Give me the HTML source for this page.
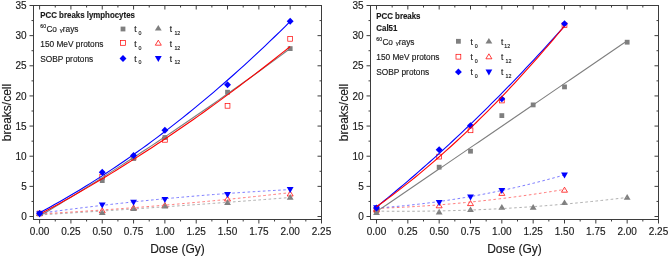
<!DOCTYPE html>
<html><head><meta charset="utf-8"><style>
html,body{margin:0;padding:0;background:#fff;width:669px;height:257px;overflow:hidden}
svg{display:block;will-change:transform}
.c{font-family:"Liberation Sans",sans-serif;fill:#1a1a1a}
.c text{stroke:#1a1a1a;stroke-width:0.15px}
</style></head><body>
<svg width="669" height="257" viewBox="0 0 669 257" class="c">
<rect x="33.5" y="5.5" width="288.0" height="214.0" fill="none" stroke="#3d3d3d" stroke-width="1"/>
<line x1="39.60" y1="219.5" x2="39.60" y2="223.5" stroke="#3d3d3d"/>
<line x1="39.60" y1="5.5" x2="39.60" y2="9.5" stroke="#3d3d3d"/>
<text x="39.60" y="235.0" font-size="10" text-anchor="middle">0.00</text>
<line x1="55.26" y1="219.5" x2="55.26" y2="221.5" stroke="#3d3d3d"/>
<line x1="55.26" y1="5.5" x2="55.26" y2="7.5" stroke="#3d3d3d"/>
<line x1="70.92" y1="219.5" x2="70.92" y2="223.5" stroke="#3d3d3d"/>
<line x1="70.92" y1="5.5" x2="70.92" y2="9.5" stroke="#3d3d3d"/>
<text x="70.92" y="235.0" font-size="10" text-anchor="middle">0.25</text>
<line x1="86.58" y1="219.5" x2="86.58" y2="221.5" stroke="#3d3d3d"/>
<line x1="86.58" y1="5.5" x2="86.58" y2="7.5" stroke="#3d3d3d"/>
<line x1="102.24" y1="219.5" x2="102.24" y2="223.5" stroke="#3d3d3d"/>
<line x1="102.24" y1="5.5" x2="102.24" y2="9.5" stroke="#3d3d3d"/>
<text x="102.24" y="235.0" font-size="10" text-anchor="middle">0.50</text>
<line x1="117.91" y1="219.5" x2="117.91" y2="221.5" stroke="#3d3d3d"/>
<line x1="117.91" y1="5.5" x2="117.91" y2="7.5" stroke="#3d3d3d"/>
<line x1="133.57" y1="219.5" x2="133.57" y2="223.5" stroke="#3d3d3d"/>
<line x1="133.57" y1="5.5" x2="133.57" y2="9.5" stroke="#3d3d3d"/>
<text x="133.57" y="235.0" font-size="10" text-anchor="middle">0.75</text>
<line x1="149.23" y1="219.5" x2="149.23" y2="221.5" stroke="#3d3d3d"/>
<line x1="149.23" y1="5.5" x2="149.23" y2="7.5" stroke="#3d3d3d"/>
<line x1="164.89" y1="219.5" x2="164.89" y2="223.5" stroke="#3d3d3d"/>
<line x1="164.89" y1="5.5" x2="164.89" y2="9.5" stroke="#3d3d3d"/>
<text x="164.89" y="235.0" font-size="10" text-anchor="middle">1.00</text>
<line x1="180.55" y1="219.5" x2="180.55" y2="221.5" stroke="#3d3d3d"/>
<line x1="180.55" y1="5.5" x2="180.55" y2="7.5" stroke="#3d3d3d"/>
<line x1="196.21" y1="219.5" x2="196.21" y2="223.5" stroke="#3d3d3d"/>
<line x1="196.21" y1="5.5" x2="196.21" y2="9.5" stroke="#3d3d3d"/>
<text x="196.21" y="235.0" font-size="10" text-anchor="middle">1.25</text>
<line x1="211.87" y1="219.5" x2="211.87" y2="221.5" stroke="#3d3d3d"/>
<line x1="211.87" y1="5.5" x2="211.87" y2="7.5" stroke="#3d3d3d"/>
<line x1="227.53" y1="219.5" x2="227.53" y2="223.5" stroke="#3d3d3d"/>
<line x1="227.53" y1="5.5" x2="227.53" y2="9.5" stroke="#3d3d3d"/>
<text x="227.53" y="235.0" font-size="10" text-anchor="middle">1.50</text>
<line x1="243.19" y1="219.5" x2="243.19" y2="221.5" stroke="#3d3d3d"/>
<line x1="243.19" y1="5.5" x2="243.19" y2="7.5" stroke="#3d3d3d"/>
<line x1="258.86" y1="219.5" x2="258.86" y2="223.5" stroke="#3d3d3d"/>
<line x1="258.86" y1="5.5" x2="258.86" y2="9.5" stroke="#3d3d3d"/>
<text x="258.86" y="235.0" font-size="10" text-anchor="middle">1.75</text>
<line x1="274.52" y1="219.5" x2="274.52" y2="221.5" stroke="#3d3d3d"/>
<line x1="274.52" y1="5.5" x2="274.52" y2="7.5" stroke="#3d3d3d"/>
<line x1="290.18" y1="219.5" x2="290.18" y2="223.5" stroke="#3d3d3d"/>
<line x1="290.18" y1="5.5" x2="290.18" y2="9.5" stroke="#3d3d3d"/>
<text x="290.18" y="235.0" font-size="10" text-anchor="middle">2.00</text>
<line x1="305.84" y1="219.5" x2="305.84" y2="221.5" stroke="#3d3d3d"/>
<line x1="305.84" y1="5.5" x2="305.84" y2="7.5" stroke="#3d3d3d"/>
<line x1="321.50" y1="219.5" x2="321.50" y2="223.5" stroke="#3d3d3d"/>
<line x1="321.50" y1="5.5" x2="321.50" y2="9.5" stroke="#3d3d3d"/>
<text x="321.50" y="235.0" font-size="10" text-anchor="middle">2.25</text>
<line x1="33.5" y1="216.50" x2="29.5" y2="216.50" stroke="#3d3d3d"/>
<line x1="321.5" y1="216.50" x2="317.5" y2="216.50" stroke="#3d3d3d"/>
<text x="26.70" y="220.10" font-size="10" text-anchor="end">0</text>
<line x1="33.5" y1="201.43" x2="31.5" y2="201.43" stroke="#3d3d3d"/>
<line x1="321.5" y1="201.43" x2="319.5" y2="201.43" stroke="#3d3d3d"/>
<line x1="33.5" y1="186.36" x2="29.5" y2="186.36" stroke="#3d3d3d"/>
<line x1="321.5" y1="186.36" x2="317.5" y2="186.36" stroke="#3d3d3d"/>
<text x="26.70" y="189.96" font-size="10" text-anchor="end">5</text>
<line x1="33.5" y1="171.29" x2="31.5" y2="171.29" stroke="#3d3d3d"/>
<line x1="321.5" y1="171.29" x2="319.5" y2="171.29" stroke="#3d3d3d"/>
<line x1="33.5" y1="156.21" x2="29.5" y2="156.21" stroke="#3d3d3d"/>
<line x1="321.5" y1="156.21" x2="317.5" y2="156.21" stroke="#3d3d3d"/>
<text x="26.70" y="159.81" font-size="10" text-anchor="end">10</text>
<line x1="33.5" y1="141.14" x2="31.5" y2="141.14" stroke="#3d3d3d"/>
<line x1="321.5" y1="141.14" x2="319.5" y2="141.14" stroke="#3d3d3d"/>
<line x1="33.5" y1="126.07" x2="29.5" y2="126.07" stroke="#3d3d3d"/>
<line x1="321.5" y1="126.07" x2="317.5" y2="126.07" stroke="#3d3d3d"/>
<text x="26.70" y="129.67" font-size="10" text-anchor="end">15</text>
<line x1="33.5" y1="111.00" x2="31.5" y2="111.00" stroke="#3d3d3d"/>
<line x1="321.5" y1="111.00" x2="319.5" y2="111.00" stroke="#3d3d3d"/>
<line x1="33.5" y1="95.93" x2="29.5" y2="95.93" stroke="#3d3d3d"/>
<line x1="321.5" y1="95.93" x2="317.5" y2="95.93" stroke="#3d3d3d"/>
<text x="26.70" y="99.53" font-size="10" text-anchor="end">20</text>
<line x1="33.5" y1="80.86" x2="31.5" y2="80.86" stroke="#3d3d3d"/>
<line x1="321.5" y1="80.86" x2="319.5" y2="80.86" stroke="#3d3d3d"/>
<line x1="33.5" y1="65.79" x2="29.5" y2="65.79" stroke="#3d3d3d"/>
<line x1="321.5" y1="65.79" x2="317.5" y2="65.79" stroke="#3d3d3d"/>
<text x="26.70" y="69.39" font-size="10" text-anchor="end">25</text>
<line x1="33.5" y1="50.71" x2="31.5" y2="50.71" stroke="#3d3d3d"/>
<line x1="321.5" y1="50.71" x2="319.5" y2="50.71" stroke="#3d3d3d"/>
<line x1="33.5" y1="35.64" x2="29.5" y2="35.64" stroke="#3d3d3d"/>
<line x1="321.5" y1="35.64" x2="317.5" y2="35.64" stroke="#3d3d3d"/>
<text x="26.70" y="39.24" font-size="10" text-anchor="end">30</text>
<line x1="33.5" y1="20.57" x2="31.5" y2="20.57" stroke="#3d3d3d"/>
<line x1="321.5" y1="20.57" x2="319.5" y2="20.57" stroke="#3d3d3d"/>
<line x1="33.5" y1="5.50" x2="29.5" y2="5.50" stroke="#3d3d3d"/>
<line x1="321.5" y1="5.50" x2="317.5" y2="5.50" stroke="#3d3d3d"/>
<text x="26.70" y="9.10" font-size="10" text-anchor="end">35</text>
<text x="177.50" y="252.6" font-size="12" text-anchor="middle">Dose (Gy)</text>
<text transform="translate(11.00,112.50) rotate(-90)" font-size="12" text-anchor="middle">breaks/cell</text>
<rect x="37.20" y="211.10" width="4.80" height="4.80" fill="none" stroke="#ff0000" stroke-width="0.7"/>
<rect x="99.84" y="174.60" width="4.80" height="4.80" fill="none" stroke="#ff0000" stroke-width="0.7"/>
<rect x="131.17" y="155.10" width="4.80" height="4.80" fill="none" stroke="#ff0000" stroke-width="0.7"/>
<rect x="162.49" y="137.40" width="4.80" height="4.80" fill="none" stroke="#ff0000" stroke-width="0.7"/>
<rect x="225.13" y="103.40" width="4.80" height="4.80" fill="none" stroke="#ff0000" stroke-width="0.7"/>
<rect x="287.78" y="36.40" width="4.80" height="4.80" fill="none" stroke="#ff0000" stroke-width="0.7"/>
<rect x="37.20" y="211.10" width="4.80" height="4.80" fill="#7f7f7f"/>
<rect x="99.84" y="178.20" width="4.80" height="4.80" fill="#7f7f7f"/>
<rect x="131.17" y="156.10" width="4.80" height="4.80" fill="#7f7f7f"/>
<rect x="162.49" y="135.10" width="4.80" height="4.80" fill="#7f7f7f"/>
<rect x="225.13" y="89.80" width="4.80" height="4.80" fill="#7f7f7f"/>
<rect x="287.78" y="46.20" width="4.80" height="4.80" fill="#7f7f7f"/>
<polygon points="39.60,210.50 42.60,215.50 36.60,215.50" fill="none" stroke="#ff0000" stroke-width="0.75"/>
<polygon points="102.24,207.80 105.24,212.80 99.24,212.80" fill="none" stroke="#ff0000" stroke-width="0.75"/>
<polygon points="133.57,205.00 136.57,210.00 130.57,210.00" fill="none" stroke="#ff0000" stroke-width="0.75"/>
<polygon points="164.89,202.50 167.89,207.50 161.89,207.50" fill="none" stroke="#ff0000" stroke-width="0.75"/>
<polygon points="227.53,196.00 230.53,201.00 224.53,201.00" fill="none" stroke="#ff0000" stroke-width="0.75"/>
<polygon points="290.18,191.00 293.18,196.00 287.18,196.00" fill="none" stroke="#ff0000" stroke-width="0.75"/>
<polygon points="39.60,210.40 43.00,216.10 36.20,216.10" fill="#7f7f7f"/>
<polygon points="102.24,209.20 105.64,214.90 98.84,214.90" fill="#7f7f7f"/>
<polygon points="133.57,205.40 136.97,211.10 130.17,211.10" fill="#7f7f7f"/>
<polygon points="164.89,202.90 168.29,208.60 161.49,208.60" fill="#7f7f7f"/>
<polygon points="227.53,199.20 230.93,204.90 224.13,204.90" fill="#7f7f7f"/>
<polygon points="290.18,194.00 293.58,199.70 286.78,199.70" fill="#7f7f7f"/>
<polyline points="39.60,214.89 44.71,214.58 49.83,214.28 54.94,213.97 60.06,213.66 65.17,213.34 70.28,213.03 75.40,212.71 80.51,212.39 85.62,212.07 90.74,211.74 95.85,211.42 100.97,211.09 106.08,210.76 111.19,210.43 116.31,210.09 121.42,209.76 126.54,209.42 131.65,209.08 136.76,208.74 141.88,208.39 146.99,208.05 152.10,207.70 157.22,207.35 162.33,206.99 167.45,206.64 172.56,206.28 177.67,205.92 182.79,205.56 187.90,205.20 193.01,204.83 198.13,204.47 203.24,204.10 208.36,203.73 213.47,203.35 218.58,202.98 223.70,202.60 228.81,202.22 233.93,201.84 239.04,201.45 244.15,201.07 249.27,200.68 254.38,200.29 259.49,199.90 264.61,199.51 269.72,199.11 274.84,198.71 279.95,198.31 285.06,197.91 290.18,197.50" fill="none" stroke="#9a9a9a" stroke-width="0.8" stroke-dasharray="2.6 2.5"/>
<polyline points="39.60,213.91 44.71,213.63 49.83,213.34 54.94,213.04 60.06,212.74 65.17,212.43 70.28,212.11 75.40,211.79 80.51,211.46 85.62,211.13 90.74,210.79 95.85,210.44 100.97,210.09 106.08,209.73 111.19,209.37 116.31,208.99 121.42,208.62 126.54,208.23 131.65,207.84 136.76,207.45 141.88,207.04 146.99,206.63 152.10,206.22 157.22,205.80 162.33,205.37 167.45,204.93 172.56,204.49 177.67,204.05 182.79,203.59 187.90,203.14 193.01,202.67 198.13,202.20 203.24,201.72 208.36,201.24 213.47,200.74 218.58,200.25 223.70,199.74 228.81,199.24 233.93,198.72 239.04,198.20 244.15,197.67 249.27,197.14 254.38,196.59 259.49,196.05 264.61,195.49 269.72,194.93 274.84,194.37 279.95,193.80 285.06,193.22 290.18,192.63" fill="none" stroke="#ff5a5a" stroke-width="0.8" stroke-dasharray="2.6 2.5"/>
<polyline points="39.60,213.35 44.71,212.65 49.83,211.96 54.94,211.27 60.06,210.60 65.17,209.93 70.28,209.27 75.40,208.62 80.51,207.98 85.62,207.35 90.74,206.73 95.85,206.12 100.97,205.52 106.08,204.92 111.19,204.34 116.31,203.76 121.42,203.20 126.54,202.64 131.65,202.09 136.76,201.55 141.88,201.02 146.99,200.50 152.10,199.99 157.22,199.48 162.33,198.99 167.45,198.51 172.56,198.03 177.67,197.56 182.79,197.11 187.90,196.66 193.01,196.22 198.13,195.79 203.24,195.37 208.36,194.95 213.47,194.55 218.58,194.16 223.70,193.77 228.81,193.40 233.93,193.03 239.04,192.67 244.15,192.32 249.27,191.98 254.38,191.65 259.49,191.33 264.61,191.02 269.72,190.72 274.84,190.42 279.95,190.14 285.06,189.86 290.18,189.59" fill="none" stroke="#5a5aff" stroke-width="0.8" stroke-dasharray="2.6 2.5"/>
<polyline points="39.60,216.04 44.71,212.99 49.83,209.92 54.94,206.84 60.06,203.74 65.17,200.62 70.28,197.49 75.40,194.35 80.51,191.19 85.62,188.01 90.74,184.82 95.85,181.62 100.97,178.39 106.08,175.16 111.19,171.91 116.31,168.64 121.42,165.36 126.54,162.06 131.65,158.75 136.76,155.42 141.88,152.08 146.99,148.72 152.10,145.35 157.22,141.96 162.33,138.56 167.45,135.14 172.56,131.70 177.67,128.25 182.79,124.79 187.90,121.31 193.01,117.82 198.13,114.31 203.24,110.78 208.36,107.24 213.47,103.69 218.58,100.12 223.70,96.53 228.81,92.93 233.93,89.31 239.04,85.68 244.15,82.03 249.27,78.37 254.38,74.70 259.49,71.00 264.61,67.30 269.72,63.57 274.84,59.83 279.95,56.08 285.06,52.31 290.18,48.53" fill="none" stroke="#7f7f7f" stroke-width="1.1"/>
<polyline points="39.60,214.30 44.71,211.56 49.83,208.79 54.94,205.99 60.06,203.17 65.17,200.32 70.28,197.43 75.40,194.52 80.51,191.58 85.62,188.62 90.74,185.62 95.85,182.59 100.97,179.54 106.08,176.46 111.19,173.35 116.31,170.21 121.42,167.04 126.54,163.84 131.65,160.62 136.76,157.37 141.88,154.08 146.99,150.77 152.10,147.43 157.22,144.06 162.33,140.67 167.45,137.24 172.56,133.79 177.67,130.31 182.79,126.79 187.90,123.25 193.01,119.69 198.13,116.09 203.24,112.46 208.36,108.81 213.47,105.13 218.58,101.42 223.70,97.68 228.81,93.91 233.93,90.11 239.04,86.29 244.15,82.43 249.27,78.55 254.38,74.64 259.49,70.70 264.61,66.73 269.72,62.73 274.84,58.71 279.95,54.65 285.06,50.57 290.18,46.46" fill="none" stroke="#ff0000" stroke-width="1.1"/>
<polyline points="39.60,212.73 44.71,209.99 49.83,207.19 54.94,204.35 60.06,201.46 65.17,198.52 70.28,195.53 75.40,192.50 80.51,189.41 85.62,186.28 90.74,183.10 95.85,179.87 100.97,176.60 106.08,173.27 111.19,169.90 116.31,166.48 121.42,163.01 126.54,159.49 131.65,155.92 136.76,152.31 141.88,148.65 146.99,144.94 152.10,141.18 157.22,137.37 162.33,133.52 167.45,129.62 172.56,125.66 177.67,121.66 182.79,117.62 187.90,113.52 193.01,109.38 198.13,105.18 203.24,100.94 208.36,96.66 213.47,92.32 218.58,87.93 223.70,83.50 228.81,79.02 233.93,74.49 239.04,69.91 244.15,65.29 249.27,60.61 254.38,55.89 259.49,51.12 264.61,46.30 269.72,41.43 274.84,36.52 279.95,31.55 285.06,26.54 290.18,21.48" fill="none" stroke="#0000ff" stroke-width="1.1"/>
<polygon points="39.60,217.60 43.00,211.60 36.20,211.60" fill="#0000ff"/>
<polygon points="102.24,208.50 105.64,202.50 98.84,202.50" fill="#0000ff"/>
<polygon points="133.57,205.80 136.97,199.80 130.17,199.80" fill="#0000ff"/>
<polygon points="164.89,203.10 168.29,197.10 161.49,197.10" fill="#0000ff"/>
<polygon points="227.53,198.10 230.93,192.10 224.13,192.10" fill="#0000ff"/>
<polygon points="290.18,193.00 293.58,187.00 286.78,187.00" fill="#0000ff"/>
<polygon points="39.60,210.05 43.05,213.50 39.60,216.95 36.15,213.50" fill="#0000ff"/>
<polygon points="102.24,168.75 105.69,172.20 102.24,175.65 98.79,172.20" fill="#0000ff"/>
<polygon points="133.57,152.05 137.02,155.50 133.57,158.95 130.12,155.50" fill="#0000ff"/>
<polygon points="164.89,126.75 168.34,130.20 164.89,133.65 161.44,130.20" fill="#0000ff"/>
<polygon points="227.53,81.25 230.98,84.70 227.53,88.15 224.08,84.70" fill="#0000ff"/>
<polygon points="290.18,17.75 293.63,21.20 290.18,24.65 286.73,21.20" fill="#0000ff"/>
<rect x="370.5" y="5.5" width="288.0" height="214.0" fill="none" stroke="#3d3d3d" stroke-width="1"/>
<line x1="376.50" y1="219.5" x2="376.50" y2="223.5" stroke="#3d3d3d"/>
<line x1="376.50" y1="5.5" x2="376.50" y2="9.5" stroke="#3d3d3d"/>
<text x="376.50" y="235.0" font-size="10" text-anchor="middle">0.00</text>
<line x1="392.17" y1="219.5" x2="392.17" y2="221.5" stroke="#3d3d3d"/>
<line x1="392.17" y1="5.5" x2="392.17" y2="7.5" stroke="#3d3d3d"/>
<line x1="407.83" y1="219.5" x2="407.83" y2="223.5" stroke="#3d3d3d"/>
<line x1="407.83" y1="5.5" x2="407.83" y2="9.5" stroke="#3d3d3d"/>
<text x="407.83" y="235.0" font-size="10" text-anchor="middle">0.25</text>
<line x1="423.50" y1="219.5" x2="423.50" y2="221.5" stroke="#3d3d3d"/>
<line x1="423.50" y1="5.5" x2="423.50" y2="7.5" stroke="#3d3d3d"/>
<line x1="439.17" y1="219.5" x2="439.17" y2="223.5" stroke="#3d3d3d"/>
<line x1="439.17" y1="5.5" x2="439.17" y2="9.5" stroke="#3d3d3d"/>
<text x="439.17" y="235.0" font-size="10" text-anchor="middle">0.50</text>
<line x1="454.83" y1="219.5" x2="454.83" y2="221.5" stroke="#3d3d3d"/>
<line x1="454.83" y1="5.5" x2="454.83" y2="7.5" stroke="#3d3d3d"/>
<line x1="470.50" y1="219.5" x2="470.50" y2="223.5" stroke="#3d3d3d"/>
<line x1="470.50" y1="5.5" x2="470.50" y2="9.5" stroke="#3d3d3d"/>
<text x="470.50" y="235.0" font-size="10" text-anchor="middle">0.75</text>
<line x1="486.17" y1="219.5" x2="486.17" y2="221.5" stroke="#3d3d3d"/>
<line x1="486.17" y1="5.5" x2="486.17" y2="7.5" stroke="#3d3d3d"/>
<line x1="501.83" y1="219.5" x2="501.83" y2="223.5" stroke="#3d3d3d"/>
<line x1="501.83" y1="5.5" x2="501.83" y2="9.5" stroke="#3d3d3d"/>
<text x="501.83" y="235.0" font-size="10" text-anchor="middle">1.00</text>
<line x1="517.50" y1="219.5" x2="517.50" y2="221.5" stroke="#3d3d3d"/>
<line x1="517.50" y1="5.5" x2="517.50" y2="7.5" stroke="#3d3d3d"/>
<line x1="533.17" y1="219.5" x2="533.17" y2="223.5" stroke="#3d3d3d"/>
<line x1="533.17" y1="5.5" x2="533.17" y2="9.5" stroke="#3d3d3d"/>
<text x="533.17" y="235.0" font-size="10" text-anchor="middle">1.25</text>
<line x1="548.83" y1="219.5" x2="548.83" y2="221.5" stroke="#3d3d3d"/>
<line x1="548.83" y1="5.5" x2="548.83" y2="7.5" stroke="#3d3d3d"/>
<line x1="564.50" y1="219.5" x2="564.50" y2="223.5" stroke="#3d3d3d"/>
<line x1="564.50" y1="5.5" x2="564.50" y2="9.5" stroke="#3d3d3d"/>
<text x="564.50" y="235.0" font-size="10" text-anchor="middle">1.50</text>
<line x1="580.17" y1="219.5" x2="580.17" y2="221.5" stroke="#3d3d3d"/>
<line x1="580.17" y1="5.5" x2="580.17" y2="7.5" stroke="#3d3d3d"/>
<line x1="595.83" y1="219.5" x2="595.83" y2="223.5" stroke="#3d3d3d"/>
<line x1="595.83" y1="5.5" x2="595.83" y2="9.5" stroke="#3d3d3d"/>
<text x="595.83" y="235.0" font-size="10" text-anchor="middle">1.75</text>
<line x1="611.50" y1="219.5" x2="611.50" y2="221.5" stroke="#3d3d3d"/>
<line x1="611.50" y1="5.5" x2="611.50" y2="7.5" stroke="#3d3d3d"/>
<line x1="627.17" y1="219.5" x2="627.17" y2="223.5" stroke="#3d3d3d"/>
<line x1="627.17" y1="5.5" x2="627.17" y2="9.5" stroke="#3d3d3d"/>
<text x="627.17" y="235.0" font-size="10" text-anchor="middle">2.00</text>
<line x1="642.83" y1="219.5" x2="642.83" y2="221.5" stroke="#3d3d3d"/>
<line x1="642.83" y1="5.5" x2="642.83" y2="7.5" stroke="#3d3d3d"/>
<line x1="658.50" y1="219.5" x2="658.50" y2="223.5" stroke="#3d3d3d"/>
<line x1="658.50" y1="5.5" x2="658.50" y2="9.5" stroke="#3d3d3d"/>
<text x="658.50" y="235.0" font-size="10" text-anchor="middle">2.25</text>
<line x1="370.5" y1="216.50" x2="366.5" y2="216.50" stroke="#3d3d3d"/>
<line x1="658.5" y1="216.50" x2="654.5" y2="216.50" stroke="#3d3d3d"/>
<text x="363.70" y="220.10" font-size="10" text-anchor="end">0</text>
<line x1="370.5" y1="201.43" x2="368.5" y2="201.43" stroke="#3d3d3d"/>
<line x1="658.5" y1="201.43" x2="656.5" y2="201.43" stroke="#3d3d3d"/>
<line x1="370.5" y1="186.36" x2="366.5" y2="186.36" stroke="#3d3d3d"/>
<line x1="658.5" y1="186.36" x2="654.5" y2="186.36" stroke="#3d3d3d"/>
<text x="363.70" y="189.96" font-size="10" text-anchor="end">5</text>
<line x1="370.5" y1="171.29" x2="368.5" y2="171.29" stroke="#3d3d3d"/>
<line x1="658.5" y1="171.29" x2="656.5" y2="171.29" stroke="#3d3d3d"/>
<line x1="370.5" y1="156.21" x2="366.5" y2="156.21" stroke="#3d3d3d"/>
<line x1="658.5" y1="156.21" x2="654.5" y2="156.21" stroke="#3d3d3d"/>
<text x="363.70" y="159.81" font-size="10" text-anchor="end">10</text>
<line x1="370.5" y1="141.14" x2="368.5" y2="141.14" stroke="#3d3d3d"/>
<line x1="658.5" y1="141.14" x2="656.5" y2="141.14" stroke="#3d3d3d"/>
<line x1="370.5" y1="126.07" x2="366.5" y2="126.07" stroke="#3d3d3d"/>
<line x1="658.5" y1="126.07" x2="654.5" y2="126.07" stroke="#3d3d3d"/>
<text x="363.70" y="129.67" font-size="10" text-anchor="end">15</text>
<line x1="370.5" y1="111.00" x2="368.5" y2="111.00" stroke="#3d3d3d"/>
<line x1="658.5" y1="111.00" x2="656.5" y2="111.00" stroke="#3d3d3d"/>
<line x1="370.5" y1="95.93" x2="366.5" y2="95.93" stroke="#3d3d3d"/>
<line x1="658.5" y1="95.93" x2="654.5" y2="95.93" stroke="#3d3d3d"/>
<text x="363.70" y="99.53" font-size="10" text-anchor="end">20</text>
<line x1="370.5" y1="80.86" x2="368.5" y2="80.86" stroke="#3d3d3d"/>
<line x1="658.5" y1="80.86" x2="656.5" y2="80.86" stroke="#3d3d3d"/>
<line x1="370.5" y1="65.79" x2="366.5" y2="65.79" stroke="#3d3d3d"/>
<line x1="658.5" y1="65.79" x2="654.5" y2="65.79" stroke="#3d3d3d"/>
<text x="363.70" y="69.39" font-size="10" text-anchor="end">25</text>
<line x1="370.5" y1="50.71" x2="368.5" y2="50.71" stroke="#3d3d3d"/>
<line x1="658.5" y1="50.71" x2="656.5" y2="50.71" stroke="#3d3d3d"/>
<line x1="370.5" y1="35.64" x2="366.5" y2="35.64" stroke="#3d3d3d"/>
<line x1="658.5" y1="35.64" x2="654.5" y2="35.64" stroke="#3d3d3d"/>
<text x="363.70" y="39.24" font-size="10" text-anchor="end">30</text>
<line x1="370.5" y1="20.57" x2="368.5" y2="20.57" stroke="#3d3d3d"/>
<line x1="658.5" y1="20.57" x2="656.5" y2="20.57" stroke="#3d3d3d"/>
<line x1="370.5" y1="5.50" x2="366.5" y2="5.50" stroke="#3d3d3d"/>
<line x1="658.5" y1="5.50" x2="654.5" y2="5.50" stroke="#3d3d3d"/>
<text x="363.70" y="9.10" font-size="10" text-anchor="end">35</text>
<text x="514.50" y="252.6" font-size="12" text-anchor="middle">Dose (Gy)</text>
<text transform="translate(348.00,112.50) rotate(-90)" font-size="12" text-anchor="middle">breaks/cell</text>
<rect x="374.10" y="207.60" width="4.80" height="4.80" fill="none" stroke="#ff0000" stroke-width="0.7"/>
<rect x="436.77" y="154.20" width="4.80" height="4.80" fill="none" stroke="#ff0000" stroke-width="0.7"/>
<rect x="468.10" y="127.90" width="4.80" height="4.80" fill="none" stroke="#ff0000" stroke-width="0.7"/>
<rect x="499.43" y="98.10" width="4.80" height="4.80" fill="none" stroke="#ff0000" stroke-width="0.7"/>
<rect x="562.10" y="22.80" width="4.80" height="4.80" fill="none" stroke="#ff0000" stroke-width="0.7"/>
<rect x="374.10" y="207.60" width="4.80" height="4.80" fill="#7f7f7f"/>
<rect x="436.77" y="164.80" width="4.80" height="4.80" fill="#7f7f7f"/>
<rect x="468.10" y="148.80" width="4.80" height="4.80" fill="#7f7f7f"/>
<rect x="499.43" y="113.20" width="4.80" height="4.80" fill="#7f7f7f"/>
<rect x="530.77" y="102.50" width="4.80" height="4.80" fill="#7f7f7f"/>
<rect x="562.10" y="84.50" width="4.80" height="4.80" fill="#7f7f7f"/>
<rect x="624.77" y="39.80" width="4.80" height="4.80" fill="#7f7f7f"/>
<polygon points="376.50,206.30 379.50,211.30 373.50,211.30" fill="none" stroke="#ff0000" stroke-width="0.75"/>
<polygon points="439.17,202.80 442.17,207.80 436.17,207.80" fill="none" stroke="#ff0000" stroke-width="0.75"/>
<polygon points="470.50,200.60 473.50,205.60 467.50,205.60" fill="none" stroke="#ff0000" stroke-width="0.75"/>
<polygon points="501.83,190.40 504.83,195.40 498.83,195.40" fill="none" stroke="#ff0000" stroke-width="0.75"/>
<polygon points="564.50,187.20 567.50,192.20 561.50,192.20" fill="none" stroke="#ff0000" stroke-width="0.75"/>
<polygon points="376.50,209.30 379.90,215.00 373.10,215.00" fill="#7f7f7f"/>
<polygon points="439.17,208.70 442.57,214.40 435.77,214.40" fill="#7f7f7f"/>
<polygon points="470.50,206.40 473.90,212.10 467.10,212.10" fill="#7f7f7f"/>
<polygon points="501.83,204.10 505.23,209.80 498.43,209.80" fill="#7f7f7f"/>
<polygon points="533.17,204.10 536.57,209.80 529.77,209.80" fill="#7f7f7f"/>
<polygon points="564.50,199.40 567.90,205.10 561.10,205.10" fill="#7f7f7f"/>
<polygon points="627.17,194.00 630.57,199.70 623.77,199.70" fill="#7f7f7f"/>
<polyline points="376.50,211.11 381.62,211.17 386.73,211.22 391.85,211.26 396.96,211.28 402.08,211.29 407.19,211.29 412.31,211.27 417.43,211.23 422.54,211.18 427.66,211.12 432.77,211.04 437.89,210.95 443.00,210.85 448.12,210.73 453.23,210.59 458.35,210.44 463.47,210.28 468.58,210.10 473.70,209.91 478.81,209.70 483.93,209.48 489.04,209.24 494.16,208.99 499.28,208.73 504.39,208.45 509.51,208.16 514.62,207.85 519.74,207.53 524.85,207.19 529.97,206.84 535.09,206.48 540.20,206.10 545.32,205.71 550.43,205.30 555.55,204.88 560.66,204.44 565.78,203.99 570.89,203.52 576.01,203.04 581.13,202.55 586.24,202.04 591.36,201.52 596.47,200.98 601.59,200.43 606.70,199.86 611.82,199.28 616.94,198.69 622.05,198.08 627.17,197.46" fill="none" stroke="#9a9a9a" stroke-width="0.8" stroke-dasharray="2.6 2.5"/>
<polyline points="376.50,208.37 380.34,208.24 384.17,208.09 388.01,207.94 391.85,207.77 395.68,207.60 399.52,207.41 403.36,207.21 407.19,207.00 411.03,206.79 414.87,206.56 418.70,206.32 422.54,206.07 426.38,205.81 430.21,205.54 434.05,205.25 437.89,204.96 441.72,204.66 445.56,204.35 449.40,204.02 453.23,203.69 457.07,203.34 460.91,202.99 464.74,202.62 468.58,202.25 472.42,201.86 476.26,201.46 480.09,201.05 483.93,200.64 487.77,200.21 491.60,199.77 495.44,199.32 499.28,198.86 503.11,198.38 506.95,197.90 510.79,197.41 514.62,196.91 518.46,196.39 522.30,195.87 526.13,195.33 529.97,194.79 533.81,194.23 537.64,193.67 541.48,193.09 545.32,192.50 549.15,191.90 552.99,191.30 556.83,190.68 560.66,190.05 564.50,189.41" fill="none" stroke="#ff5a5a" stroke-width="0.8" stroke-dasharray="2.6 2.5"/>
<polyline points="376.50,208.05 380.34,207.78 384.17,207.49 388.01,207.19 391.85,206.86 395.68,206.53 399.52,206.17 403.36,205.80 407.19,205.41 411.03,205.00 414.87,204.58 418.70,204.14 422.54,203.69 426.38,203.21 430.21,202.72 434.05,202.21 437.89,201.69 441.72,201.15 445.56,200.59 449.40,200.02 453.23,199.43 457.07,198.82 460.91,198.19 464.74,197.55 468.58,196.89 472.42,196.21 476.26,195.52 480.09,194.81 483.93,194.08 487.77,193.34 491.60,192.58 495.44,191.80 499.28,191.01 503.11,190.20 506.95,189.37 510.79,188.52 514.62,187.66 518.46,186.78 522.30,185.88 526.13,184.97 529.97,184.04 533.81,183.10 537.64,182.13 541.48,181.15 545.32,180.15 549.15,179.14 552.99,178.11 556.83,177.06 560.66,176.00 564.50,174.92" fill="none" stroke="#5a5aff" stroke-width="0.8" stroke-dasharray="2.6 2.5"/>
<polyline points="376.50,211.65 381.62,208.17 386.73,204.68 391.85,201.20 396.96,197.71 402.08,194.22 407.19,190.74 412.31,187.25 417.43,183.76 422.54,180.28 427.66,176.79 432.77,173.31 437.89,169.82 443.00,166.33 448.12,162.85 453.23,159.36 458.35,155.87 463.47,152.39 468.58,148.90 473.70,145.42 478.81,141.93 483.93,138.44 489.04,134.96 494.16,131.47 499.28,127.98 504.39,124.50 509.51,121.01 514.62,117.53 519.74,114.04 524.85,110.55 529.97,107.07 535.09,103.58 540.20,100.09 545.32,96.61 550.43,93.12 555.55,89.63 560.66,86.15 565.78,82.66 570.89,79.18 576.01,75.69 581.13,72.20 586.24,68.72 591.36,65.23 596.47,61.74 601.59,58.26 606.70,54.77 611.82,51.29 616.94,47.80 622.05,44.31 627.17,40.83" fill="none" stroke="#7f7f7f" stroke-width="1.1"/>
<polyline points="376.50,206.89 380.34,203.81 384.17,200.71 388.01,197.58 391.85,194.43 395.68,191.25 399.52,188.04 403.36,184.82 407.19,181.56 411.03,178.28 414.87,174.97 418.70,171.64 422.54,168.28 426.38,164.90 430.21,161.49 434.05,158.06 437.89,154.60 441.72,151.11 445.56,147.60 449.40,144.07 453.23,140.50 457.07,136.92 460.91,133.30 464.74,129.67 468.58,126.00 472.42,122.31 476.26,118.60 480.09,114.86 483.93,111.09 487.77,107.30 491.60,103.48 495.44,99.64 499.28,95.77 503.11,91.88 506.95,87.96 510.79,84.02 514.62,80.05 518.46,76.05 522.30,72.03 526.13,67.98 529.97,63.91 533.81,59.81 537.64,55.69 541.48,51.54 545.32,47.37 549.15,43.17 552.99,38.94 556.83,34.69 560.66,30.41 564.50,26.11" fill="none" stroke="#0000ff" stroke-width="1.1"/>
<polygon points="376.50,211.30 379.90,205.30 373.10,205.30" fill="#0000ff"/>
<polygon points="439.17,205.90 442.57,199.90 435.77,199.90" fill="#0000ff"/>
<polygon points="470.50,200.40 473.90,194.40 467.10,194.40" fill="#0000ff"/>
<polygon points="501.83,193.90 505.23,187.90 498.43,187.90" fill="#0000ff"/>
<polygon points="564.50,178.50 567.90,172.50 561.10,172.50" fill="#0000ff"/>
<polygon points="376.50,204.55 379.95,208.00 376.50,211.45 373.05,208.00" fill="#0000ff"/>
<polygon points="439.17,146.35 442.62,149.80 439.17,153.25 435.72,149.80" fill="#0000ff"/>
<polygon points="470.50,122.15 473.95,125.60 470.50,129.05 467.05,125.60" fill="#0000ff"/>
<polygon points="501.83,95.45 505.28,98.90 501.83,102.35 498.38,98.90" fill="#0000ff"/>
<polygon points="564.50,20.35 567.95,23.80 564.50,27.25 561.05,23.80" fill="#0000ff"/>
<polyline points="376.50,206.79 380.34,204.03 384.17,201.23 388.01,198.40 391.85,195.52 395.68,192.61 399.52,189.66 403.36,186.67 407.19,183.64 411.03,180.57 414.87,177.46 418.70,174.32 422.54,171.13 426.38,167.91 430.21,164.65 434.05,161.35 437.89,158.01 441.72,154.63 445.56,151.21 449.40,147.76 453.23,144.26 457.07,140.73 460.91,137.15 464.74,133.54 468.58,129.89 472.42,126.20 476.26,122.48 480.09,118.71 483.93,114.90 487.77,111.06 491.60,107.18 495.44,103.26 499.28,99.30 503.11,95.30 506.95,91.26 510.79,87.18 514.62,83.07 518.46,78.91 522.30,74.72 526.13,70.49 529.97,66.22 533.81,61.91 537.64,57.56 541.48,53.17 545.32,48.74 549.15,44.28 552.99,39.78 556.83,35.23 560.66,30.65 564.50,26.03" fill="none" stroke="#ff0000" stroke-width="1.1"/>
<text x="40.3" y="17.70" font-size="8.4" font-weight="bold" stroke="#1a1a1a" stroke-width="0.2" textLength="94.6" lengthAdjust="spacingAndGlyphs">PCC breaks lymphocytes</text>
<text x="40.3" y="32.00" font-size="8.3"><tspan font-size="5.2" dy="-4.2">60</tspan><tspan dy="4.2" dx="0.3">Co </tspan><tspan font-size="6.2" dx="0.4">γ</tspan>rays</text>
<rect x="120.60" y="26.60" width="4.80" height="4.80" fill="#7f7f7f"/>
<polygon points="158.30,24.90 161.70,30.60 154.90,30.60" fill="#7f7f7f"/>
<text x="134.30" y="32.00" font-size="8.3">t<tspan font-size="5.3" dy="2.9" dx="2.0">0</tspan></text>
<text x="169.80" y="32.00" font-size="8.3">t<tspan font-size="5.3" dy="2.9" dx="2.3">12</tspan></text>
<text x="40.3" y="46.70" font-size="8.3">150 MeV protons</text>
<rect x="120.60" y="40.50" width="4.80" height="4.80" fill="none" stroke="#ff0000" stroke-width="0.7"/>
<polygon points="158.30,40.20 161.30,45.20 155.30,45.20" fill="none" stroke="#ff0000" stroke-width="0.75"/>
<text x="134.30" y="46.70" font-size="8.3">t<tspan font-size="5.3" dy="2.9" dx="2.0">0</tspan></text>
<text x="169.80" y="46.70" font-size="8.3">t<tspan font-size="5.3" dy="2.9" dx="2.3">12</tspan></text>
<text x="40.3" y="61.50" font-size="8.3">SOBP protons</text>
<polygon points="123.00,55.05 126.45,58.50 123.00,61.95 119.55,58.50" fill="#0000ff"/>
<polygon points="158.30,61.90 161.70,55.90 154.90,55.90" fill="#0000ff"/>
<text x="134.30" y="61.50" font-size="8.3">t<tspan font-size="5.3" dy="2.9" dx="2.0">0</tspan></text>
<text x="169.80" y="61.50" font-size="8.3">t<tspan font-size="5.3" dy="2.9" dx="2.3">12</tspan></text>
<text x="376.3" y="18.60" font-size="8.4" font-weight="bold" stroke="#1a1a1a" stroke-width="0.2" textLength="44.2" lengthAdjust="spacingAndGlyphs">PCC breaks</text>
<text x="376.3" y="30.90" font-size="8.4" font-weight="bold" stroke="#1a1a1a" stroke-width="0.2" textLength="21.1" lengthAdjust="spacingAndGlyphs">Cal51</text>
<text x="376.3" y="45.30" font-size="8.3"><tspan font-size="5.2" dy="-4.2">60</tspan><tspan dy="4.2" dx="0.3">Co </tspan><tspan font-size="6.2" dx="0.4">γ</tspan>rays</text>
<rect x="456.00" y="38.90" width="4.80" height="4.80" fill="#7f7f7f"/>
<polygon points="488.90,37.90 492.30,43.60 485.50,43.60" fill="#7f7f7f"/>
<text x="470.40" y="45.30" font-size="8.3">t<tspan font-size="5.3" dy="2.9" dx="2.0">0</tspan></text>
<text x="501.00" y="45.30" font-size="8.3">t<tspan font-size="5.3" dy="2.9" dx="1.0">12</tspan></text>
<text x="376.3" y="60.20" font-size="8.3">150 MeV protons</text>
<rect x="456.00" y="54.30" width="4.80" height="4.80" fill="none" stroke="#ff0000" stroke-width="0.7"/>
<polygon points="488.90,53.80 491.90,58.80 485.90,58.80" fill="none" stroke="#ff0000" stroke-width="0.75"/>
<text x="470.40" y="60.20" font-size="8.3">t<tspan font-size="5.3" dy="2.9" dx="2.0">0</tspan></text>
<text x="501.00" y="60.20" font-size="8.3">t<tspan font-size="5.3" dy="2.9" dx="2.3">12</tspan></text>
<text x="376.3" y="74.80" font-size="8.3">SOBP protons</text>
<polygon points="458.40,68.45 461.85,71.90 458.40,75.35 454.95,71.90" fill="#0000ff"/>
<polygon points="488.90,75.50 492.30,69.50 485.50,69.50" fill="#0000ff"/>
<text x="470.40" y="74.80" font-size="8.3">t<tspan font-size="5.3" dy="2.9" dx="2.0">0</tspan></text>
<text x="501.00" y="74.80" font-size="8.3">t<tspan font-size="5.3" dy="2.9" dx="2.3">12</tspan></text>
</svg>
</body></html>
